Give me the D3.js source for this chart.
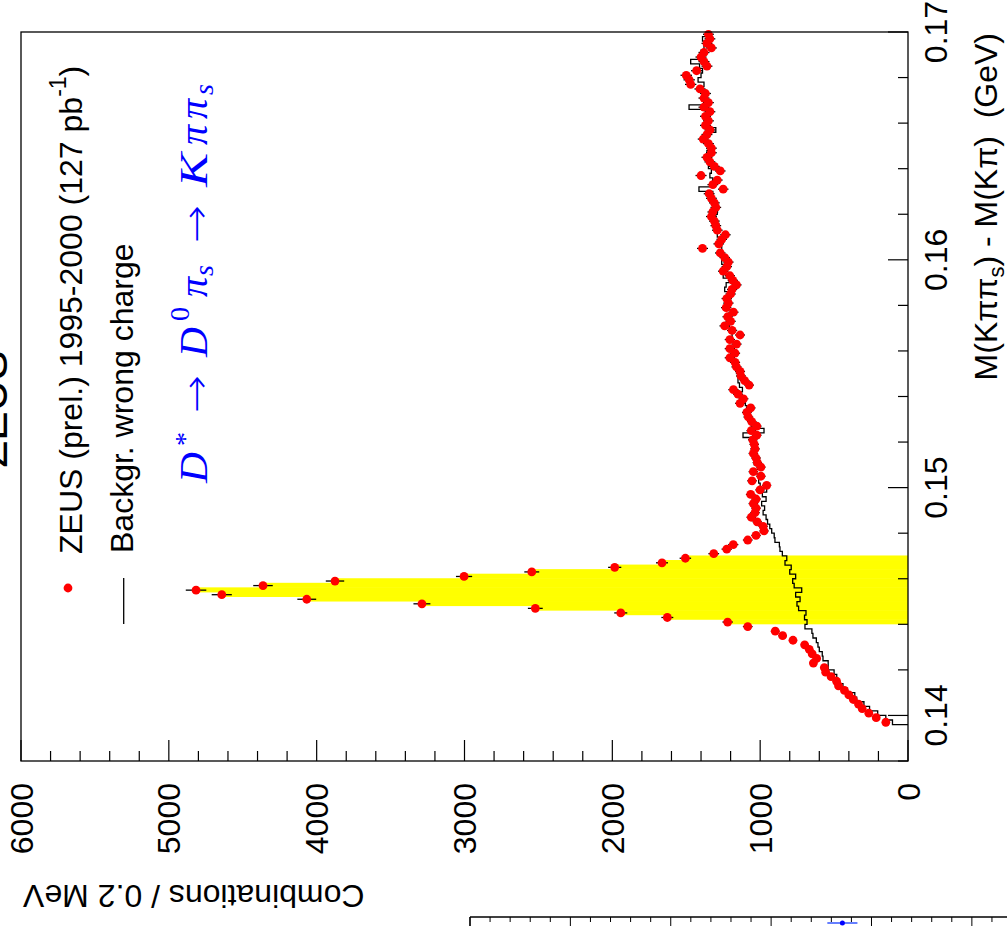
<!DOCTYPE html>
<html><head><meta charset="utf-8">
<script src="https://cdn.jsdelivr.net/npm/d3@7"></script>
<style>body{margin:0;background:#fff;} svg{display:block;} text{white-space:pre;}</style>
</head><body>
<script>
// ---- data (bins of 0.2 MeV, first bin centre 0.1397 GeV) ----
const binStart = 0.1397;
const binWidth = 0.0002;
const dataCounts = [
 150,215,265,310,335,370,400,430,470,483,
 520,557,566,640,618,648,668,699,778,848,
 898,1084,1220,1628,1943,2521,3288,4067,4642,4816,
 4363,3876,3003,2545,1984,1664,1506,1314,1226,1182,
 1084,1028,974,980,1020,1060,1035,1028,1046,1028,
 1064,1001,956,1055,995,1046,995,1019,1028,1046,
 1035,1040,1050,1023,1060,1023,1057,1080,1090,1064,
 1136,1113,1150,1181,1075,1105,1130,1136,1160,1170,
 1205,1170,1205,1160,1205,1136,1190,1240,1200,1220,
 1181,1230,1215,1226,1200,1190,1160,1185,1205,1250,
 1226,1215,1240,1270,1390,1280,1260,1235,1290,1300,
 1310,1330,1320,1300,1310,1330,1345,1250,1320,1290,
 1400,1270,1310,1340,1360,1330,1330,1350,1385,1360,
 1340,1370,1350,1370,1340,1380,1350,1380,1370,1407,
 1470,1480,1500,1430,1360,1380,1400,1380,1330,1360,
 1340,1350
];
const bkgCounts = [
 105,150,205,260,298,347,360,410,440,470,
 482,500,540,540,575,580,600,609,620,643,
 650,697,683,700,690,740,751,730,760,719,
 770,780,760,800,790,832,820,850,866,870,
 900,905,922,935,950,960,980,970,990,960,
 985,956,1000,1010,990,1030,1000,1040,1030,1050,
 1020,1040,1060,1116,974,1060,1050,1080,1070,1090,
 1100,1110,1130,1120,1140,1150,1130,1160,1150,1170,
 1180,1160,1190,1180,1200,1190,1180,1210,1200,1220,
 1190,1210,1230,1200,1220,1240,1230,1210,1250,1240,
 1230,1260,1250,1270,1260,1280,1260,1290,1300,1280,
 1310,1300,1290,1320,1310,1330,1320,1414,1330,1320,
 1340,1330,1350,1340,1330,1360,1350,1340,1370,1360,
 1300,1350,1340,1370,1360,1481,1380,1360,1390,1400,
 1380,1420,1400,1390,1410,1470,1390,1400,1380,1370,
 1390,1360
];
const signalWindow = [0.144, 0.147];
const massMajorTicks = [0.14, 0.15, 0.16, 0.17];
const massTickLabels = ["0.14", "0.15", "0.16", "0.17"];
const countMajorTicks = [0, 1000, 2000, 3000, 4000, 5000, 6000];
const countTickLabels = ["0", "1000", "2000", "3000", "4000", "5000", "6000"];
const legendLabels = ["ZEUS (prel.) 1995-2000 (127 pb", "Backgr. wrong charge"];

// ---- drawing ----
const W = 1007, H = 926;
const FONT = "'Liberation Sans', Arial, Helvetica, sans-serif";
const SERIF = "'Liberation Serif', 'Times New Roman', serif";
const svg = d3.select("body").append("svg").attr("width", W).attr("height", H);
svg.append("rect").attr("width", W).attr("height", H).attr("fill", "#fff");

// whole picture is the original plot turned 90 degrees counter-clockwise
const g = svg.append("g").attr("transform", `translate(0,${H}) rotate(-90)`);

const x = d3.scaleLinear().domain([0.138, 0.17]).range([165, 894]);
const y = d3.scaleLinear().domain([0, 6000]).range([908, 21]);

const bins = dataCounts.map((c, i) => {
  const c0 = binStart + i * binWidth;
  return { m: c0, lo: c0 - binWidth / 2, hi: c0 + binWidth / 2, n: c, b: bkgCounts[i] };
});

// yellow signal region: data histogram filled inside window
const eps = 1e-7;
g.append("g").selectAll("rect")
  .data(bins.filter(d => d.lo >= signalWindow[0] - eps && d.hi <= signalWindow[1] + eps))
  .join("rect")
  .attr("x", d => x(d.lo)).attr("width", d => x(d.hi) - x(d.lo) + 0.5)
  .attr("y", d => y(d.n)).attr("height", d => y(0) - y(d.n))
  .attr("fill", "#ffff00");

// background histogram (steps)
const stepPts = [[bins[0].lo, 0]];
bins.forEach(d => { stepPts.push([d.lo, d.b]); stepPts.push([d.hi, d.b]); });
g.append("path")
  .attr("d", d3.line().x(d => x(Math.min(d[0], 0.17))).y(d => y(d[1]))(stepPts))
  .attr("fill", "none").attr("stroke", "#000").attr("stroke-width", 1.3);

// data error bars and points
g.append("g").selectAll("line").data(bins).join("line")
  .attr("x1", d => x(d.m)).attr("x2", d => x(d.m))
  .attr("y1", d => y(d.n - Math.sqrt(d.n))).attr("y2", d => y(d.n + Math.sqrt(d.n)))
  .attr("stroke", "#000").attr("stroke-width", 1.3);
g.append("g").selectAll("circle").data(bins).join("circle")
  .attr("cx", d => x(d.m)).attr("cy", d => y(d.n)).attr("r", 4.4)
  .attr("fill", "#ff0000");

// frame
g.append("rect").attr("x", 165).attr("y", 21).attr("width", 894 - 165).attr("height", 908 - 21)
  .attr("fill", "none").attr("stroke", "#000").attr("stroke-width", 1.3);

// mass axis ticks (bottom, inward)
const massMinor = d3.range(0.138, 0.1701, 0.002).map(v => +v.toFixed(4));
g.append("g").selectAll("line").data(massMinor).join("line")
  .attr("x1", d => x(d)).attr("x2", d => x(d))
  .attr("y1", 908).attr("y2", d => massMajorTicks.some(t => Math.abs(t - d) < 1e-6) ? 888 : 898)
  .attr("stroke", "#000").attr("stroke-width", 1.2);
g.append("g").selectAll("text").data(massMajorTicks).join("text")
  .attr("x", d => x(d)).attr("y", 947)
  .attr("text-anchor", "middle").attr("font-family", FONT).attr("font-size", 32)
  .text((d, i) => massTickLabels[i]);

// count axis ticks (left, inward)
const countMinor = d3.range(0, 6001, 200);
g.append("g").selectAll("line").data(countMinor).join("line")
  .attr("y1", d => y(d)).attr("y2", d => y(d))
  .attr("x1", 165).attr("x2", d => d % 1000 === 0 ? 186 : 175)
  .attr("stroke", "#000").attr("stroke-width", 1.2);
g.append("g").selectAll("text").data(countMajorTicks).join("text")
  .attr("x", 143).attr("y", d => y(d) + 11.5)
  .attr("text-anchor", "end").attr("font-family", FONT).attr("font-size", 32)
  .text((d, i) => countTickLabels[i]);

// axis titles
const xt = g.append("text").attr("x", 893).attr("y", 997).attr("text-anchor", "end")
  .attr("font-family", FONT).attr("font-size", 32);
xt.append("tspan").text("M(K\u03c0\u03c0");
xt.append("tspan").attr("font-size", 22).attr("dy", 7).text("s");
xt.append("tspan").attr("dy", -7).text(") - M(K\u03c0)  (GeV)");

g.append("text").attr("transform", "translate(41,23) rotate(-90)")
  .attr("text-anchor", "end").attr("font-family", FONT).attr("font-size", 32)
  .text("Combinations / 0.2 MeV");

// title (cut by the page edge, as in the original)
g.append("text").attr("x", 517).attr("y", 7).attr("text-anchor", "middle")
  .attr("font-family", FONT).attr("font-size", 44).text("ZEUS");

// legend
g.append("circle").attr("cx", 338).attr("cy", 68).attr("r", 4.4).attr("fill", "#ff0000");
const l1 = g.append("text").attr("x", 372).attr("y", 82).attr("font-family", FONT).attr("font-size", 32);
l1.append("tspan").text(legendLabels[0]);
l1.append("tspan").attr("font-size", 23).attr("dy", -16).text("-1");
l1.append("tspan").attr("dy", 16).text(")");
g.append("line").attr("x1", 302).attr("x2", 348).attr("y1", 123.7).attr("y2", 123.7)
  .attr("stroke", "#000").attr("stroke-width", 1.3);
g.append("text").attr("x", 373).attr("y", 133).attr("font-family", FONT).attr("font-size", 32)
  .text(legendLabels[1]);

// decay formula
const ARROWF = "'DejaVu Sans', sans-serif";
const fx = g.append("g").attr("fill", "#0000ff").attr("font-family", SERIF);
const fparts = [
  { t: "D", u: 443, v: 207, s: 40, it: true, len: 31 },
  { t: "*", u: 480, v: 194, s: 28, it: false },
  { t: "\u2192", u: 513, v: 209, s: 38, it: false, len: 38, f: ARROWF, w: 200 },
  { t: "D", u: 569, v: 207, s: 40, it: true, len: 30 },
  { t: "0", u: 605, v: 189, s: 28, it: false },
  { t: "\u03c0", u: 629, v: 207, s: 40, it: true },
  { t: "s", u: 650, v: 213, s: 28, it: true },
  { t: "\u2192", u: 683, v: 209, s: 38, it: false, len: 38, f: ARROWF, w: 200 },
  { t: "K", u: 739, v: 207, s: 40, it: true, len: 34 },
  { t: "\u03c0", u: 781, v: 207, s: 40, it: true },
  { t: "\u03c0", u: 807, v: 207, s: 40, it: true },
  { t: "s", u: 831, v: 213, s: 28, it: true }
];
fx.selectAll("text").data(fparts).join("text")
  .attr("x", d => d.u).attr("y", d => d.v).attr("font-size", d => d.s)
  .attr("font-family", d => d.f || SERIF)
  .attr("font-weight", d => d.w || "normal")
  .attr("font-style", d => d.it ? "italic" : "normal")
  .each(function (d) { if (d.len) d3.select(this).attr("textLength", d.len).attr("lengthAdjust", "spacingAndGlyphs"); })
  .text(d => d.t);

// neighbouring panel peeking in at the bottom of the page
const p2 = d3.scaleLinear().domain([0, 5.35]).range([470, 1007]);
const p2Ticks = d3.range(0, 5.35, 0.2).map(v => +v.toFixed(1));
g.append("line").attr("x1", 9).attr("x2", 9).attr("y1", 470).attr("y2", 1007)
  .attr("stroke", "#000").attr("stroke-width", 1.3);
g.append("line").attr("x1", 0).attr("x2", 9).attr("y1", 470).attr("y2", 470)
  .attr("stroke", "#000").attr("stroke-width", 1.3);
g.append("g").selectAll("line").data(p2Ticks).join("line")
  .attr("y1", d => p2(d)).attr("y2", d => p2(d))
  .attr("x1", 9).attr("x2", d => Math.abs(d - Math.round(d)) < 1e-6 ? 0 : 4)
  .attr("stroke", "#000").attr("stroke-width", 1);
const p2Point = [{ v: 3.71, e: 0.15 }];
g.append("line").attr("x1", 3).attr("x2", 3)
  .attr("y1", p2(p2Point[0].v - p2Point[0].e)).attr("y2", p2(p2Point[0].v + p2Point[0].e))
  .attr("stroke", "#3355ff").attr("stroke-width", 1.5);
g.append("circle").attr("cx", 3).attr("cy", p2(p2Point[0].v)).attr("r", 2.5).attr("fill", "#0000ff");
</script>
</body></html>
